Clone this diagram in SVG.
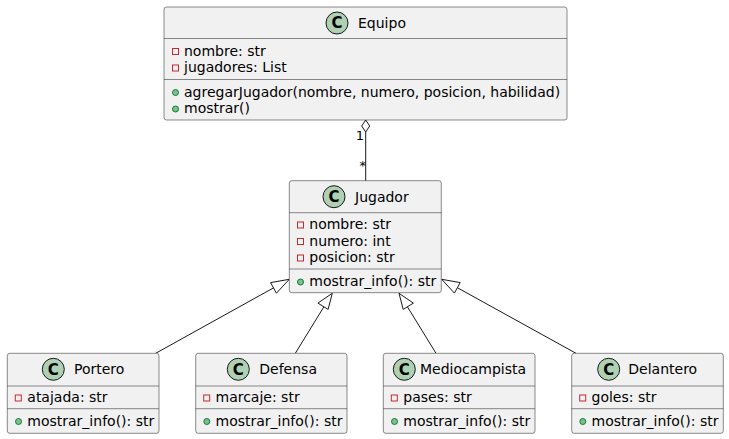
<svg xmlns="http://www.w3.org/2000/svg" width="729" height="439" viewBox="0 0 729 439">
<style>
.box{fill:#F1F1F1;stroke:#181818;stroke-width:0.5}
.sep{stroke:#181818;stroke-width:0.5}
.t{font-family:"DejaVu Sans",sans-serif;font-size:14px;fill:#000}
.ci{fill:#ADD1B2;stroke:#181818;stroke-width:1}
.cl{font-family:"DejaVu Sans",sans-serif;font-size:15px;font-weight:bold;fill:#000;text-anchor:middle}
.pr{fill:none;stroke:#C82930;stroke-width:1}
.pu{fill:#84BE84;stroke:#038048;stroke-width:1}
.ln{stroke:#181818;stroke-width:1;fill:none}
.hd{fill:#FFFFFF;stroke:#181818;stroke-width:1}
.m{font-family:"DejaVu Sans",sans-serif;font-size:13px;fill:#000}
</style>
<rect width="729" height="439" fill="#FFFFFF"/>
<g id="connectors">
<line class="ln" x1="365.7" y1="132" x2="365.7" y2="180.7"/>
<polygon class="hd" points="365.7,120,369.7,126,365.7,132,361.7,126"/>
<text class="m" x="364" y="140" text-anchor="end">1</text>
<text class="m" x="366" y="170" text-anchor="end">*</text>
<line class="ln" x1="155.7" y1="353.3" x2="274" y2="287.6"/>
<polygon class="hd" points="289.3,279.3,270.6,282.6,276.4,293.2"/>
<line class="ln" x1="295.3" y1="353.3" x2="324" y2="306.6"/>
<polygon class="hd" points="332.3,293.3,317.9,303.1,328.1,309.4"/>
<line class="ln" x1="436" y1="353.3" x2="407.3" y2="306.6"/>
<polygon class="hd" points="399,293.3,403.2,309.4,413.4,303.1"/>
<line class="ln" x1="576" y1="353.3" x2="457.3" y2="287.7"/>
<polygon class="hd" points="441.7,279.3,454.4,293.1,460.2,282.6"/>
</g>
<g id="Equipo">
<rect class="box" x="164" y="7" width="403" height="113" rx="2.5"/>
<circle class="ci" cx="337" cy="23" r="11"/>
<text class="cl" x="337" y="28.3">C</text>
<text class="t" x="358" y="28">Equipo</text>
<line class="sep" x1="164" y1="38.5" x2="567" y2="38.5"/>
<rect class="pr" x="172.5" y="48.5" width="6" height="6"/>
<text class="t" x="184" y="55.5">nombre: str</text>
<rect class="pr" x="172.5" y="65" width="6" height="6"/>
<text class="t" x="184" y="72">jugadores: List</text>
<line class="sep" x1="164" y1="79.5" x2="567" y2="79.5"/>
<circle class="pu" cx="175.5" cy="92.5" r="3"/>
<text class="t" x="184" y="96.5">agregarJugador(nombre, numero, posicion, habilidad)</text>
<circle class="pu" cx="175.5" cy="109" r="3"/>
<text class="t" x="184" y="113">mostrar()</text>
</g>
<g id="Jugador">
<rect class="box" x="289.3" y="180.7" width="152" height="112" rx="2.5"/>
<circle class="ci" cx="334" cy="196.7" r="11"/>
<text class="cl" x="334" y="202">C</text>
<text class="t" x="355" y="201.7">Jugador</text>
<line class="sep" x1="289.3" y1="212.7" x2="441.3" y2="212.7"/>
<rect class="pr" x="297.5" y="222" width="6" height="6"/>
<text class="t" x="309.3" y="229">nombre: str</text>
<rect class="pr" x="297.5" y="238.5" width="6" height="6"/>
<text class="t" x="309.3" y="245.5">numero: int</text>
<rect class="pr" x="297.5" y="255" width="6" height="6"/>
<text class="t" x="309.3" y="262">posicion: str</text>
<line class="sep" x1="289.3" y1="269" x2="441.3" y2="269"/>
<circle class="pu" cx="300.5" cy="282" r="3"/>
<text class="t" x="309.3" y="286">mostrar_info(): str</text>
</g>
<g id="Portero">
<rect class="box" x="7.3" y="353.3" width="151.7" height="80" rx="2.5"/>
<circle class="ci" cx="53.3" cy="369.3" r="11"/>
<text class="cl" x="53.3" y="374.6">C</text>
<text class="t" x="74" y="374.3">Portero</text>
<line class="sep" x1="7.3" y1="386" x2="159" y2="386"/>
<rect class="pr" x="15.3" y="395" width="6" height="6"/>
<text class="t" x="27.3" y="402">atajada: str</text>
<line class="sep" x1="7.3" y1="408.7" x2="159" y2="408.7"/>
<circle class="pu" cx="18.5" cy="421.5" r="3"/>
<text class="t" x="27.3" y="425.7">mostrar_info(): str</text>
</g>
<g id="Defensa">
<rect class="box" x="195.7" y="353.3" width="151.3" height="80" rx="2.5"/>
<circle class="ci" cx="238.3" cy="369.3" r="11"/>
<text class="cl" x="238.3" y="374.6">C</text>
<text class="t" x="259.3" y="374.3">Defensa</text>
<line class="sep" x1="195.7" y1="386" x2="347" y2="386"/>
<rect class="pr" x="203.7" y="395" width="6" height="6"/>
<text class="t" x="215.5" y="402">marcaje: str</text>
<line class="sep" x1="195.7" y1="408.7" x2="347" y2="408.7"/>
<circle class="pu" cx="206.8" cy="421.5" r="3"/>
<text class="t" x="215.5" y="425.7">mostrar_info(): str</text>
</g>
<g id="Mediocampista">
<rect class="box" x="383.3" y="353.3" width="151.7" height="80" rx="2.5"/>
<circle class="ci" cx="404.3" cy="369.3" r="11"/>
<text class="cl" x="404.3" y="374.6">C</text>
<text class="t" x="420" y="374.3">Mediocampista</text>
<line class="sep" x1="383.3" y1="386" x2="535" y2="386"/>
<rect class="pr" x="391.3" y="395" width="6" height="6"/>
<text class="t" x="403.3" y="402">pases: str</text>
<line class="sep" x1="383.3" y1="408.7" x2="535" y2="408.7"/>
<circle class="pu" cx="394.5" cy="421.5" r="3"/>
<text class="t" x="403.3" y="425.7">mostrar_info(): str</text>
</g>
<g id="Delantero">
<rect class="box" x="571.7" y="353.3" width="151.6" height="80" rx="2.5"/>
<circle class="ci" cx="608.7" cy="369.3" r="11"/>
<text class="cl" x="608.7" y="374.6">C</text>
<text class="t" x="628.3" y="374.3">Delantero</text>
<line class="sep" x1="571.7" y1="386" x2="723.3" y2="386"/>
<rect class="pr" x="579.7" y="395" width="6" height="6"/>
<text class="t" x="591.5" y="402">goles: str</text>
<line class="sep" x1="571.7" y1="408.7" x2="723.3" y2="408.7"/>
<circle class="pu" cx="582.8" cy="421.5" r="3"/>
<text class="t" x="591.5" y="425.7">mostrar_info(): str</text>
</g>
</svg>
